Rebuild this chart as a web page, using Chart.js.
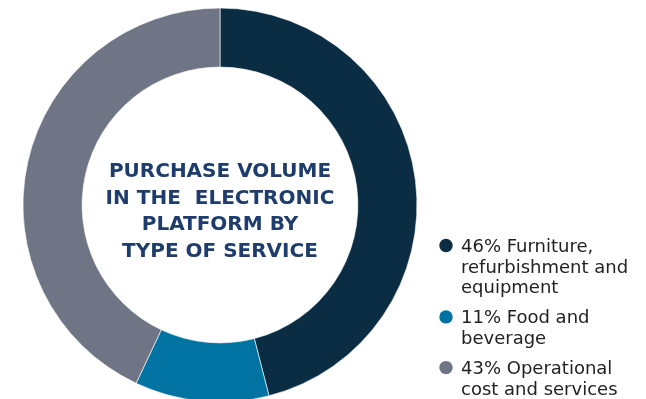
<!DOCTYPE html>
<html>
<head>
<meta charset="utf-8">
<script src="https://cdn.jsdelivr.net/npm/chart.js@4.4.1/dist/chart.umd.min.js"></script>
<style>
    html, body { margin: 0; padding: 0; background: #ffffff; overflow: hidden; }
    #wrap { position: relative; width: 646px; height: 399px; }
</style>
</head>
<body>
<div id="wrap"><canvas id="donut"></canvas></div>
<script>
// Data
const categories = ['Furniture, refurbishment and equipment', 'Food and beverage', 'Operational cost and services'];
const shares = [46, 11, 43];
const sliceColors = ['#0b2d44', '#0073a3', '#6f7585'];
const legendLines = [
    ['46% Furniture,', 'refurbishment and', 'equipment'],
    ['11% Food and', 'beverage'],
    ['43% Operational', 'cost and services']
];
const titleLines = ['PURCHASE VOLUME', 'IN THE  ELECTRONIC', 'PLATFORM BY', 'TYPE OF SERVICE'];

// Center title + side legend
const labelsPlugin = {
    id: 'labelsPlugin',
    afterDraw(chart) {
        const ctx = chart.ctx;
        const meta = chart.getDatasetMeta(0);
        const cx = meta.data[0].x;
        const cy = meta.data[0].y;

        ctx.save();
        ctx.fillStyle = '#1e3d6c';
        ctx.font = 'bold 20px "DejaVu Sans", sans-serif';
        ctx.textAlign = 'center';
        ctx.textBaseline = 'alphabetic';
        titleLines.forEach((line, i) => {
            ctx.fillText(line, cx, cy - 28 + i * 26.5);
        });

        ctx.textAlign = 'left';
        ctx.font = '18px "DejaVu Sans", sans-serif';
        let y = 252;
        legendLines.forEach((lines, i) => {
            ctx.fillStyle = sliceColors[i];
            ctx.beginPath();
            ctx.arc(446, y - 6.5, 6.7, 0, Math.PI * 2);
            ctx.fill();
            ctx.fillStyle = '#222222';
            lines.forEach((line, j) => {
                ctx.fillText(line, 461, y + j * 20.7);
            });
            y += (lines.length - 1) * 20.7 + 30;
        });
        ctx.restore();
    }
};

new Chart(document.getElementById('donut'), {
    type: 'doughnut',
    data: {
        labels: categories,
        datasets: [{
            data: shares,
            backgroundColor: sliceColors,
            borderColor: 'rgba(255, 255, 255, 0.6)',
            borderWidth: 1,
            radius: 197,
            cutout: '70%'
        }]
    },
    options: {
        responsive: true,
        maintainAspectRatio: false,
        animation: false,
        layout: {
            padding: { left: 0, right: 206, top: 11, bottom: 0 }
        },
        plugins: {
            legend: { display: false },
            tooltip: { enabled: false }
        }
    },
    plugins: [labelsPlugin]
});
</script>
</body>
</html>
